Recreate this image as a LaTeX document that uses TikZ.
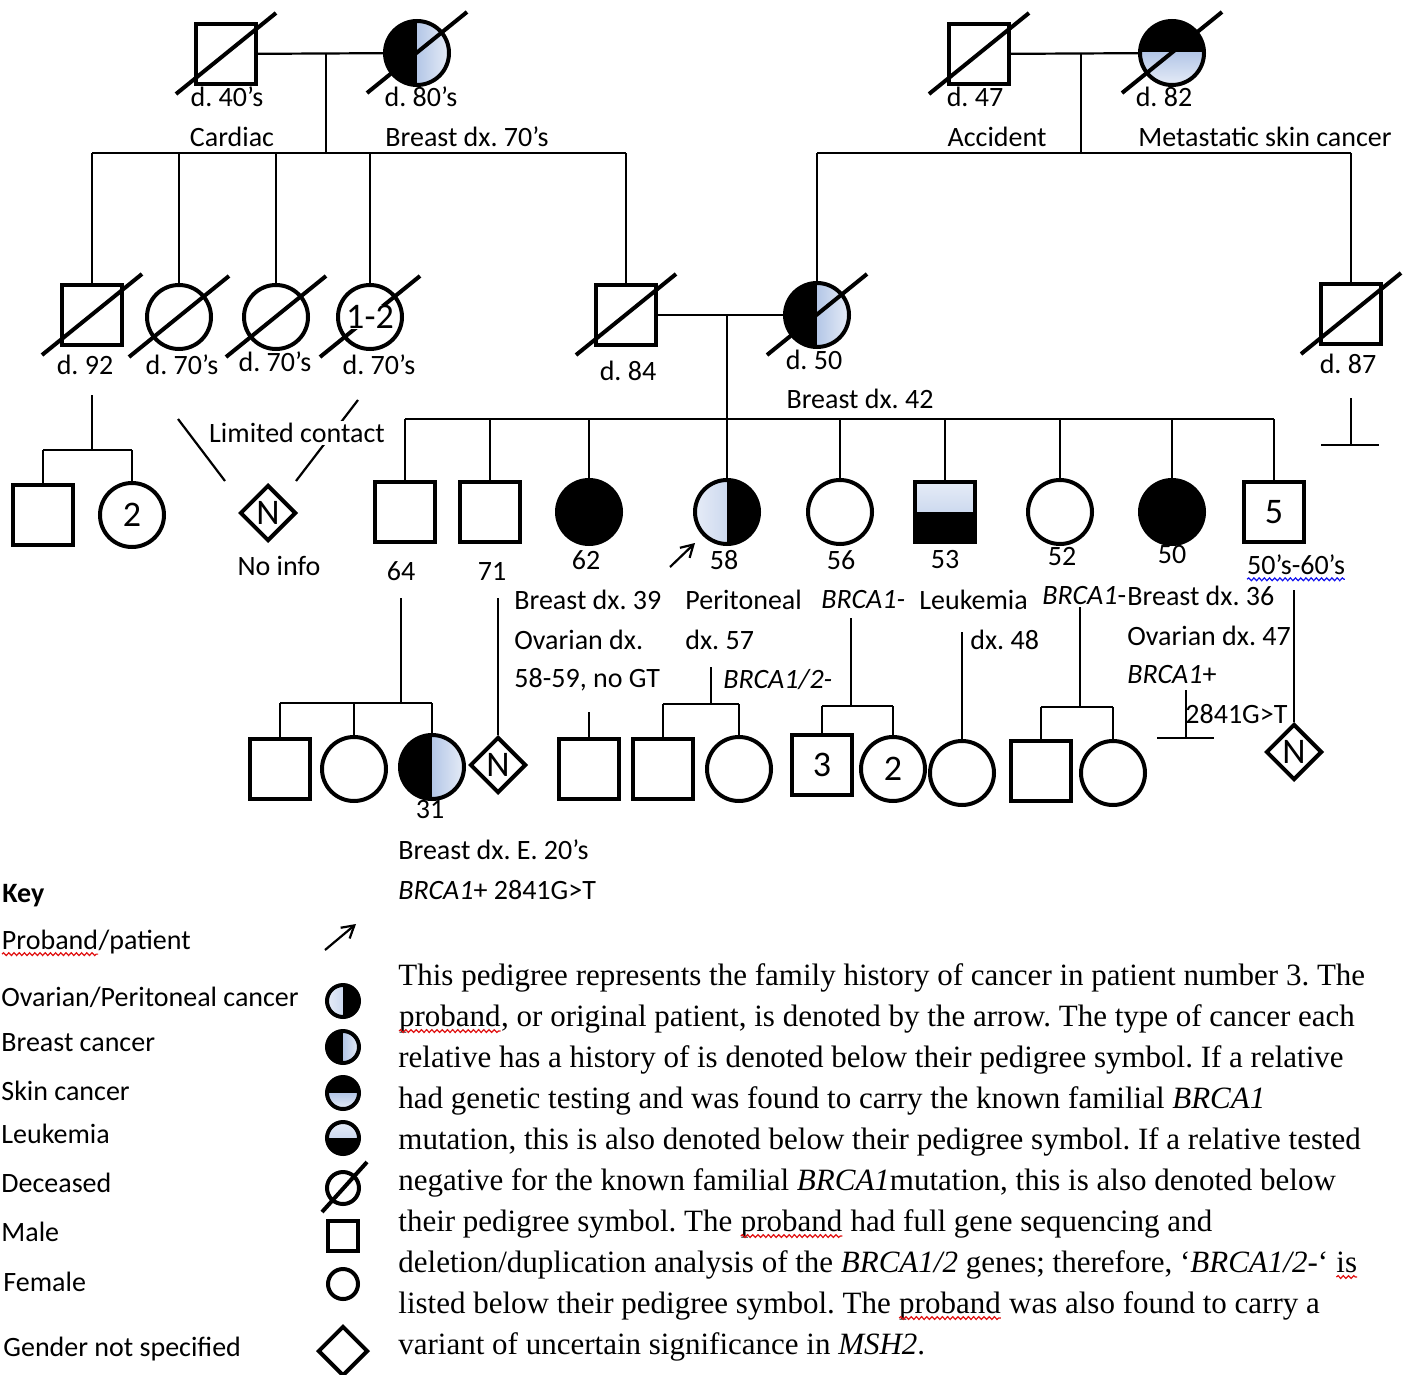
\documentclass[tikz,border=0pt]{standalone}
\usepackage{fontspec}
\setmainfont{Carlito}
\newfontfamily\paraserif{Liberation Serif}
\usepackage{tikz}
\usetikzlibrary{positioning,arrows.meta,shapes.geometric,calc,decorations.pathmorphing}
\definecolor{pdBlue}{HTML}{B4C7E7}
\definecolor{pdBlueL}{HTML}{E6ECF7}
\definecolor{pdRed}{HTML}{E01010}
\definecolor{pdWave}{HTML}{1010F0}
\frenchspacing
\newcommand{\spellwave}[2]{\tikz[baseline=(w.base)]{\node[inner sep=0pt, outer sep=0pt] (w) {#2};
  \draw[#1, line width=0.6pt, decorate, decoration={snake, amplitude=0.7pt, segment length=2.6pt}]
    ([yshift=-2.4pt]w.base west) -- ([yshift=-2.4pt]w.base east);}}
\newcommand{\deceased}[1]{\draw[pd-slash] ($(#1)+(-50,40)$) -- ($(#1)+(50,-41)$);}
\tikzset{
  pd-sym/.style={draw=black, line width=2pt, inner sep=0pt,
    font=\fontsize{18}{20}\selectfont},
  pd-male/.style={pd-sym, rectangle, minimum size=30pt},
  pd-female/.style={pd-sym, circle, minimum size=32pt},
  pd-unknown/.style={pd-sym, diamond, minimum size=28pt},
  pd-both/.style={fill=black},
  pd-breast/.style={path picture={
    \fill[black] (path picture bounding box.south west) rectangle (path picture bounding box.north);
    \shade[left color=pdBlue, right color=pdBlueL] (path picture bounding box.south) rectangle (path picture bounding box.north east);}},
  pd-ovarian/.style={path picture={
    \shade[left color=pdBlueL, right color=pdBlue] (path picture bounding box.south west) rectangle (path picture bounding box.north);
    \fill[black] (path picture bounding box.south) rectangle (path picture bounding box.north east);}},
  pd-skin/.style={path picture={
    \fill[black] (path picture bounding box.west) rectangle (path picture bounding box.north east);
    \shade[top color=pdBlue, bottom color=pdBlueL] (path picture bounding box.south west) rectangle (path picture bounding box.east);}},
  pd-leuk/.style={path picture={
    \shade[top color=pdBlueL, bottom color=pdBlue] (path picture bounding box.west) rectangle (path picture bounding box.north east);
    \fill[black] (path picture bounding box.south west) rectangle (path picture bounding box.east);}},
  pd-ksym/.style={pd-sym, minimum size=16pt},
  pd-line/.style={line width=1.1pt},
  pd-slash/.style={line width=2pt},
  pd-arrow/.style={line width=1.1pt, -{Straight Barb[length=6pt, width=7pt]}},
  pd-label/.style={font=\fontsize{14}{17}\selectfont, inner sep=1pt},
  pd-note/.style={pd-label, anchor=west},
  pd-para/.style={font=\paraserif\fontsize{15.5}{20.5}\selectfont, align=left, inner sep=0pt}
}
\begin{document}
\begin{tikzpicture}[x=0.5pt,y=-0.5pt]
\useasboundingbox (0,0) rectangle (1406,1374);

% Generation I
\node[pd-male] (gf1) at (226,54) {};
\node[pd-female, pd-breast] (gm1) at (417,53) {};
\node[pd-male] (gf2) at (979,54) {};
\node[pd-female, pd-skin] (gm2) at (1172,53) {};
\deceased{gf1} \deceased{gm1} \deceased{gf2} \deceased{gm2}
\node[pd-label] (l-gf1) at (227,97) {d. 40’s};
\node[pd-label] (l-gm1) at (421,97) {d. 80’s};
\node[pd-label] (x-gf1) at (232,137) {Cardiac};
\node[pd-label] (x-gm1) at (467,137) {Breast dx. 70’s};
\node[pd-label] (l-gf2) at (975,97) {d. 47};
\node[pd-label] (l-gm2) at (1164,97) {d. 82};
\node[pd-label] (x-gf2) at (997,137) {Accident};
\node[pd-label] (x-gm2) at (1265,137) {Metastatic skin cancer};

% Generation II
\node[pd-male] (a1) at (92,315) {};
\node[pd-female] (a2) at (179,317) {};
\node[pd-female] (a3) at (276,317) {};
\node[pd-female] (a4) at (370,317) {};
\node[pd-male] (fa) at (626,315) {};
\node[pd-female, pd-breast] (mo) at (817,315) {};
\node[pd-male] (u1) at (1351,314) {};
\deceased{a1} \deceased{a2} \deceased{a3} \deceased{a4}
\deceased{fa} \deceased{mo} \deceased{u1}
\node[fill=white, inner sep=0pt, font=\fontsize{18}{20}\selectfont] (a4n) at (a4) {1-2};
\node[pd-label] (l-a1) at (85,365) {d. 92};
\node[pd-label] (l-a2) at (182,365) {d. 70’s};
\node[pd-label] (l-a3) at (275,362) {d. 70’s};
\node[pd-label] (l-a4) at (379,365) {d. 70’s};
\node[pd-label] (l-fa) at (628,371) {d. 84};
\node[pd-label] (l-mo) at (814,360) {d. 50};
\node[pd-label] (x-mo) at (860,399) {Breast dx. 42};
\node[pd-label] (l-u1) at (1348,364) {d. 87};

% Generation III
\node[pd-male] (b1) at (43,515) {};
\node[pd-female] (b2) at (132,515) {2};
\node[pd-unknown] (b3) at (268,513) {N};
\node[pd-label] (l-b3) at (279,566) {No info};
\node[pd-male] (c1) at (405,512) {};
\node[pd-male] (c2) at (490,512) {};
\node[pd-female, pd-both] (c3) at (589,512) {};
\node[pd-female, pd-ovarian] (c4) at (727,512) {};
\node[pd-female] (c5) at (840,512) {};
\node[pd-male, pd-leuk] (c6) at (945,512) {};
\node[pd-female] (c7) at (1060,512) {};
\node[pd-female, pd-both] (c8) at (1172,512) {};
\node[pd-male] (c9) at (1274,512) {5};
\node[pd-label] (l-c1) at (401,571) {64};
\node[pd-label] (l-c2) at (492,571) {71};
\node[pd-label] (l-c3) at (586,560) {62};
\node[pd-label] (l-c4) at (724,560) {58};
\node[pd-label] (l-c5) at (841,560) {56};
\node[pd-label] (l-c6) at (945,560) {53};
\node[pd-label] (l-c7) at (1062,557) {52};
\node[pd-label] (l-c8) at (1172,555) {50};
\node[pd-label] (l-c9) at (1296,568) {\spellwave{pdWave}{50’s-60’s}};
\coordinate (pro1) at (670,567);
\coordinate (pro2) at (695,543);
\draw[pd-arrow] (pro1) -- (pro2);

% notes under generation III
\node[pd-note] (n-c3a) at (512,600) {Breast dx. 39};
\node[pd-note] (n-c3b) at (512,640) {Ovarian dx.};
\node[pd-note] (n-c3c) at (512,680) {58-59, no GT};
\node[pd-note] (n-c4a) at (683,600) {Peritoneal};
\node[pd-note] (n-c4b) at (683,640) {dx. 57};
\node[pd-note] (n-c4c) at (721,680) {\textit{BRCA1/2-}};
\node[pd-note] (n-c5) at (819,600) {\textit{BRCA1-}};
\node[pd-note] (n-c6a) at (917,600) {Leukemia};
\node[pd-note] (n-c6b) at (968,640) {dx. 48};
\node[pd-note] (n-c7) at (1040,596) {\textit{BRCA1}-};
\node[pd-note] (n-c8a) at (1125,596) {Breast dx. 36};
\node[pd-note] (n-c8b) at (1125,636) {Ovarian dx. 47};
\node[pd-note] (n-c8c) at (1125,675) {\textit{BRCA1}+};
\node[pd-note] (n-c8d) at (1183,714) {2841G>T};

% Generation IV
\node[pd-male] (d1) at (280,769) {};
\node[pd-female] (d2) at (354,769) {};
\node[pd-female, pd-breast] (d3) at (432,767) {};
\node[pd-unknown] (d4) at (498,765) {N};
\node[pd-male] (d5) at (589,769) {};
\node[pd-male] (d6) at (663,769) {};
\node[pd-female] (d7) at (739,769) {};
\node[pd-male] (d8) at (822,765) {3};
\node[pd-female] (d9) at (893,769) {2};
\node[pd-female] (d10) at (962,773) {};
\node[pd-male] (d11) at (1041,771) {};
\node[pd-female] (d12) at (1113,773) {};
\node[pd-unknown] (d13) at (1294,752) {N};
\node[pd-label] (l-d3) at (430,810) {31};
\node[pd-note] (n-d3a) at (396,850) {Breast dx. E. 20’s};
\node[pd-note] (n-d3b) at (396,890) {\textit{BRCA1}+ 2841G>T};

% Relations
\coordinate (m1) at (326,54);
\coordinate (s1) at (326,153);
\coordinate (m2) at (1081,54);
\coordinate (s2) at (1081,153);
\draw[pd-line] (gf1) -- (gm1);
\draw[pd-line] (gf2) -- (gm2);
\draw[pd-line] (m1) -- (s1);
\draw[pd-line] (m2) -- (s2);
\draw[pd-line] (a1 |- s1) -- (fa |- s1);
\draw[pd-line] (mo |- s2) -- (u1 |- s2);
\foreach \n in {a1,a2,a3,a4,fa}
  \draw[pd-line] (\n |- s1) -- (\n);
\foreach \n in {mo,u1}
  \draw[pd-line] (\n |- s2) -- (\n);

\coordinate (m3) at (727,315);
\coordinate (s3) at (727,419);
\draw[pd-line] (fa) -- (mo);
\draw[pd-line] (m3) -- (s3);
\draw[pd-line] (c1 |- s3) -- (c9 |- s3);
\foreach \n in {c1,c2,c3,c4,c5,c6,c7,c8,c9}
  \draw[pd-line] (\n |- s3) -- (\n);

% descendants of generation II
\coordinate (t0) at (92,395);
\coordinate (t0s) at (92,450);
\draw[pd-line] (t0) -- (t0s);
\draw[pd-line] (b1 |- t0s) -- (b2 |- t0s);
\foreach \n in {b1,b2}
  \draw[pd-line] (\n |- t0s) -- (\n);
\coordinate (lc1) at (178,419);
\coordinate (lc2) at (225,481);
\coordinate (lc3) at (358,400);
\coordinate (lc4) at (296,481);
\draw[pd-line] (lc1) -- (lc2);
\draw[pd-line] (lc3) -- (lc4);
\node[pd-label, fill=white] (limit) at (297,433) {Limited contact};
\coordinate (tu) at (1351,398);
\coordinate (tus) at (1351,445);
\draw[pd-line] (tu) -- (tus);
\draw[pd-line] ($(tus)+(-30,0)$) -- ($(tus)+(28,0)$);

% descendants of generation III
\coordinate (t1) at (401,598);
\coordinate (t1s) at (401,703);
\draw[pd-line] (t1) -- (t1s);
\draw[pd-line] (d1 |- t1s) -- (d3 |- t1s);
\foreach \n in {d1,d2,d3}
  \draw[pd-line] (\n |- t1s) -- (\n);
\coordinate (t2) at (498,598);
\draw[pd-line] (t2) -- (d4);
\coordinate (t3) at (589,712);
\draw[pd-line] (t3) -- (d5);
\coordinate (t4) at (711,667);
\coordinate (t4s) at (711,704);
\draw[pd-line] (t4) -- (t4s);
\draw[pd-line] (d6 |- t4s) -- (d7 |- t4s);
\foreach \n in {d6,d7}
  \draw[pd-line] (\n |- t4s) -- (\n);
\coordinate (t5) at (851,618);
\coordinate (t5s) at (851,706);
\draw[pd-line] (t5) -- (t5s);
\draw[pd-line] (d8 |- t5s) -- (d9 |- t5s);
\foreach \n in {d8,d9}
  \draw[pd-line] (\n |- t5s) -- (\n);
\coordinate (t6) at (962,632);
\draw[pd-line] (t6) -- (d10);
\coordinate (t7) at (1080,607);
\coordinate (t7s) at (1080,707);
\draw[pd-line] (t7) -- (t7s);
\draw[pd-line] (d11 |- t7s) -- (d12 |- t7s);
\foreach \n in {d11,d12}
  \draw[pd-line] (\n |- t7s) -- (\n);
\coordinate (t8) at (1186,690);
\coordinate (t8s) at (1186,738);
\draw[pd-line] (t8) -- (t8s);
\draw[pd-line] ($(t8s)+(-29,0)$) -- ($(t8s)+(28,0)$);
\coordinate (t9) at (1294,590);
\draw[pd-line] (t9) -- (d13);

% Key
\node[pd-note, font=\fontsize{14}{17}\selectfont\bfseries] (key) at (0,896) {Key};
\node[pd-note] (k0t) at (-1,943) {\spellwave{pdRed}{Proband}/patient};
\node[pd-note] (k1t) at (-1,997) {Ovarian/Peritoneal cancer};
\node[pd-note] (k2t) at (-1,1043) {Breast cancer};
\node[pd-note] (k3t) at (-1,1091) {Skin cancer};
\node[pd-note] (k4t) at (-1,1134) {Leukemia};
\node[pd-note] (k5t) at (-1,1183) {Deceased};
\node[pd-note] (k6t) at (-1,1232) {Male};
\node[pd-note] (k7t) at (1,1282) {Female};
\node[pd-note] (k8t) at (1,1349) {Gender not specified};
\coordinate (ka1) at (325,950);
\coordinate (ka2) at (356,924);
\draw[pd-arrow] (ka1) -- (ka2);
\node[pd-ksym, circle, pd-ovarian] (k1) at (343,1001) {};
\node[pd-ksym, circle, pd-breast] (k2) at (343,1047) {};
\node[pd-ksym, circle, pd-skin] (k3) at (343,1093) {};
\node[pd-ksym, circle, pd-leuk] (k4) at (343,1138) {};
\node[pd-ksym, circle] (k5) at (343,1188) {};
\draw[pd-slash] ($(k5)+(-21,24)$) -- ($(k5)+(24,-26)$);
\node[pd-ksym, rectangle, minimum size=15pt] (k6) at (343,1236) {};
\node[pd-ksym, circle, minimum size=15pt] (k7) at (343,1284) {};
\node[pd-ksym, diamond, minimum size=25pt] (k8) at (343,1351) {};

% Text
\node[pd-para, anchor=north west] (para) at (398,963)
  {This pedigree represents the family history of cancer in patient number 3. The\\
  \spellwave{pdRed}{proband}, or original patient, is denoted by the arrow. The type of cancer each\\
  relative has a history of is denoted below their pedigree symbol. If a relative\\
  had genetic testing and was found to carry the known familial \textit{BRCA1}\\
  mutation, this is also denoted below their pedigree symbol. If a relative tested\\
  negative for the known familial \textit{BRCA1}mutation, this is also denoted below\\
  their pedigree symbol. The \spellwave{pdRed}{proband} had full gene sequencing and\\
  deletion/duplication analysis of the \textit{BRCA1/2} genes; therefore, ‘\textit{BRCA1/2-}‘ \spellwave{pdRed}{is}\\
  listed below their pedigree symbol. The \spellwave{pdRed}{proband} was also found to carry a\\
  variant of uncertain significance in \textit{MSH2}.};
\end{tikzpicture}
\end{document}
